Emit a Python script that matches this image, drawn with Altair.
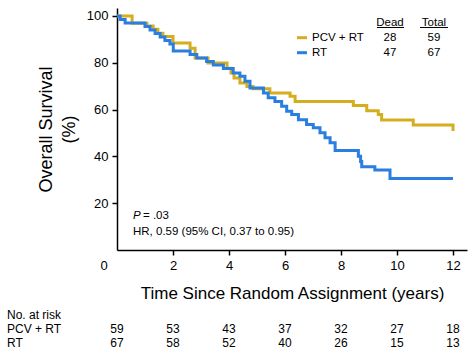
import altair as alt
import pandas as pd

# Kaplan-Meier step curves (time in years, survival %)
pcv_t = [0, 0.54, 1.07, 1.29, 1.46, 1.64, 2.0, 2.61, 2.79, 3.25, 3.93, 4.07, 4.18, 4.39, 4.64, 4.86, 5.46, 6.18, 6.36, 8.44, 8.92, 9.33, 9.45, 10.58, 12.0]
pcv_s = [100, 96.9, 95.7, 94.3, 92.6, 91.2, 88.4, 86.2, 82.0, 79.9, 77.7, 75.6, 73.5, 71.4, 69.9, 68.9, 67.1, 65.7, 63.5, 61.7, 59.5, 57.9, 55.5, 53.4, 50.8]
rt_t = [0, 0.11, 0.29, 1.0, 1.18, 1.36, 1.54, 1.71, 1.89, 2.01, 2.61, 2.85, 3.2, 3.44, 3.8, 4.15, 4.39, 4.57, 4.75, 5.23, 5.4, 5.64, 5.88, 6.06, 6.24, 6.48, 6.77, 7.01, 7.25, 7.43, 7.61, 7.79, 8.62, 8.7, 8.74, 9.21, 9.75, 12.0]
rt_s = [100, 98.5, 97.0, 95.5, 94.0, 92.5, 91.0, 89.5, 88.0, 85.0, 83.5, 82.0, 80.5, 79.0, 77.6, 75.6, 74.2, 72.1, 69.2, 67.1, 65.0, 63.5, 61.4, 59.3, 57.9, 55.7, 53.6, 52.2, 50.1, 48.0, 45.8, 42.5, 40.1, 37.8, 35.6, 34.2, 30.5, 30.5]

groups = ["PCV + RT", "RT"]
dead = [28, 47]
total = [59, 67]

risk_times = [0, 2, 4, 6, 8, 10, 12]
pcv_risk = [59, 53, 43, 37, 32, 27, 18]
rt_risk = [67, 58, 52, 40, 26, 15, 13]

x_ticks = [2, 4, 6, 8, 10, 12]
y_ticks = [20, 40, 60, 80, 100]

YEL = "#D5AE1E"
BLU = "#2A7EDF"
FONT = "Liberation Sans"

curve_df = pd.concat([
    pd.DataFrame({"t": pcv_t, "s": pcv_s, "group": groups[0], "o": 0}),
    pd.DataFrame({"t": rt_t, "s": rt_s, "group": groups[1], "o": 1}),
])

x_scale = alt.Scale(domain=[0, 12.5], nice=False, zero=False)
y_scale = alt.Scale(domain=[0, 103.4], nice=False)
color_scale = alt.Scale(domain=groups, range=[YEL, BLU])

x_axis = alt.Axis(
    values=x_ticks, title="Time Since Random Assignment (years)",
    labelFontSize=13, labelPadding=4, tickSize=5,
    titleFontSize=17, titleFontWeight="normal", titleY=43, titleBaseline="middle")
X = alt.X("t:Q", scale=x_scale, axis=x_axis, title="Time Since Random Assignment (years)")

lines = alt.Chart(curve_df).mark_line(interpolate="step-after", strokeWidth=3).encode(
    x=X,
    y=alt.Y("s:Q", scale=y_scale, axis=alt.Axis(
        values=y_ticks, title=["Overall Survival", "(%)"],
        labelFontSize=13, labelPadding=4, tickSize=5,
        titleFontSize=18, titleFontWeight="normal", titleX=-71, titleBaseline="middle",
        titleLineHeight=23)),
    color=alt.Color("group:N", scale=color_scale, legend=None),
    detail="o:O",
)

# origin label
origin = alt.Chart(pd.DataFrame({"l": ["0"]})).mark_text(fontSize=13, font=FONT, color="black").encode(
    x=alt.value(-13), y=alt.value(258), text="l:N")

# stats annotation
stats = alt.Chart(pd.DataFrame({"l": ["HR, 0.59 (95% CI, 0.37 to 0.95)"]})).mark_text(
    fontSize=11.5, font=FONT, align="left", color="black").encode(
    x=alt.value(16), y=alt.value(224), text="l:N")
p_it = alt.Chart(pd.DataFrame({"l": ["P"]})).mark_text(
    fontSize=11.5, font=FONT, align="left", fontStyle="italic", color="black").encode(
    x=alt.value(16), y=alt.value(208), text="l:N")
p_rest = alt.Chart(pd.DataFrame({"l": ["= .03"]})).mark_text(
    fontSize=11.5, font=FONT, align="left", color="black").encode(
    x=alt.value(26), y=alt.value(208), text="l:N")

# legend table
leg_df = pd.DataFrame({"group": groups, "dead": dead, "total": total, "y": [29.7, 44.7]})
leg_lines = alt.Chart(leg_df).mark_rule(strokeWidth=3).encode(
    x=alt.value(180), x2=alt.value(190), y=alt.Y("y:Q", scale=None),
    color=alt.Color("group:N", scale=color_scale, legend=None))
leg_names = alt.Chart(leg_df).mark_text(fontSize=11.5, font=FONT, align="left", color="black").encode(
    x=alt.value(195), y=alt.Y("y:Q", scale=None), text="group:N")
leg_dead = alt.Chart(leg_df).mark_text(fontSize=11.5, font=FONT, color="black").encode(
    x=alt.value(273), y=alt.Y("y:Q", scale=None), text="dead:Q")
leg_total = alt.Chart(leg_df).mark_text(fontSize=11.5, font=FONT, color="black").encode(
    x=alt.value(317), y=alt.Y("y:Q", scale=None), text="total:Q")
hdr_df = pd.DataFrame({"l": ["Dead", "Total"], "x": [273, 317], "x1": [260, 303], "x2": [287, 331]})
hdr = alt.Chart(hdr_df).mark_text(fontSize=11.5, font=FONT, color="black").encode(
    x=alt.X("x:Q", scale=None), y=alt.value(14.7), text="l:N")
hdr_ul = alt.Chart(hdr_df).mark_rule(strokeWidth=1, color="black").encode(
    x=alt.X("x1:Q", scale=None), x2="x2:Q", y=alt.value(19.5))

# number at risk table
risk_df = pd.concat([
    pd.DataFrame({"t": risk_times, "n": pcv_risk, "row": groups[0]}),
    pd.DataFrame({"t": risk_times, "n": rt_risk, "row": groups[1]}),
])
risk_pcv = alt.Chart(risk_df[risk_df.row == groups[0]]).mark_text(fontSize=12, font=FONT, color="black").encode(
    x=X, y=alt.value(321), text="n:Q")
risk_rt = alt.Chart(risk_df[risk_df.row == groups[1]]).mark_text(fontSize=12, font=FONT, color="black").encode(
    x=X, y=alt.value(335), text="n:Q")
row_df = pd.DataFrame({"l": ["No. at risk", "PCV + RT", "RT"], "y": [307, 321, 335]})
row_labels = alt.Chart(row_df).mark_text(fontSize=12, font=FONT, align="left", color="black").encode(
    x=alt.value(-110), y=alt.Y("y:Q", scale=None), text="l:N")

chart = alt.layer(
    lines, origin, stats, p_it, p_rest, leg_lines, leg_names, leg_dead, leg_total,
    hdr, hdr_ul, risk_pcv, risk_rt, row_labels
).properties(
    width=350, height=242,
    padding={"left": 117, "top": 8, "right": 2, "bottom": 103},
    autosize=alt.AutoSizeParams(type="none"),
    background="white",
).configure_view(stroke=None).configure_axis(
    grid=False, domainColor="black", domainWidth=1.5, tickColor="black", tickWidth=1.5,
    labelColor="black", titleColor="black", labelFont=FONT, titleFont=FONT,
)

chart.save("out.html", embed_options={"renderer": "svg", "actions": False})
